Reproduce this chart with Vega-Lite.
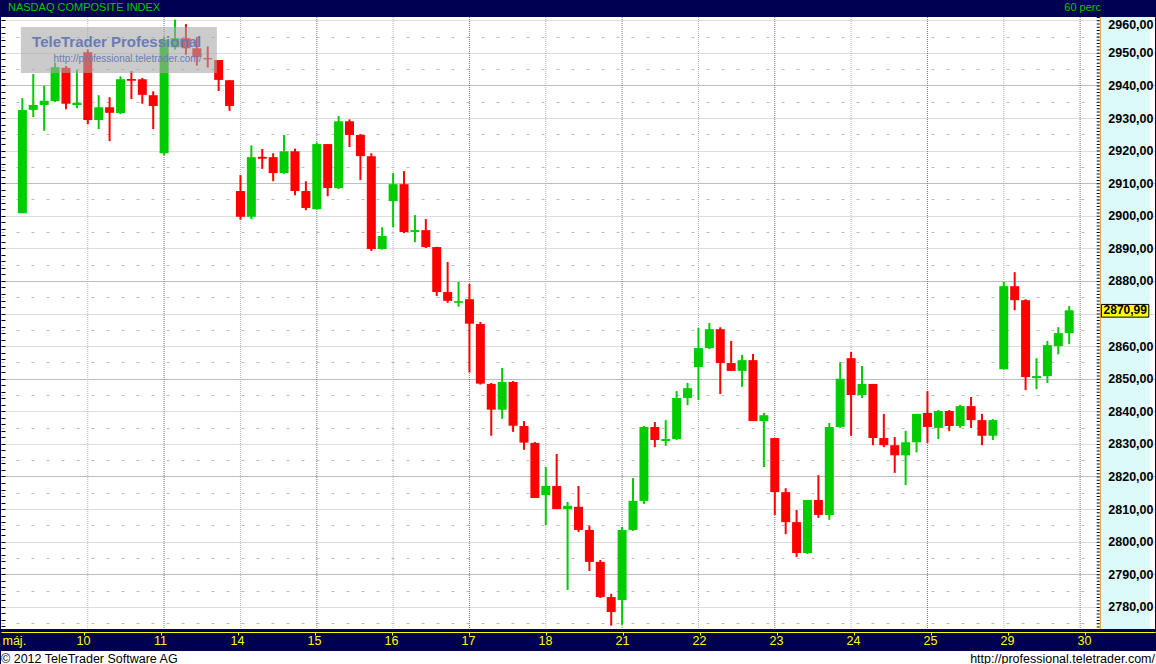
{
  "$schema": "https://vega.github.io/schema/vega-lite/v6.json",
  "background": "#000050",
  "padding": 0,
  "config": {
    "font": "Liberation Sans",
    "view": {"stroke": null}
  },
  "datasets": {
    "candles": [
      {"k":1,"o":2900.8,"h":2936.1,"l":2900.8,"c":2932.5},
      {"k":2,"o":2932.5,"h":2943.5,"l":2930.3,"c":2934.0},
      {"k":3,"o":2934.0,"h":2939.9,"l":2926.1,"c":2935.3},
      {"k":4,"o":2935.2,"h":2947.0,"l":2934.9,"c":2945.6},
      {"k":5,"o":2945.4,"h":2946.0,"l":2932.7,"c":2934.4},
      {"k":6,"o":2934.0,"h":2944.7,"l":2933.0,"c":2934.7},
      {"k":7,"o":2950.2,"h":2951.0,"l":2928.1,"c":2929.4},
      {"k":8,"o":2929.4,"h":2937.0,"l":2926.6,"c":2933.3},
      {"k":9,"o":2933.3,"h":2936.4,"l":2922.9,"c":2931.6},
      {"k":10,"o":2931.5,"h":2942.8,"l":2931.2,"c":2941.9},
      {"k":11,"o":2942.0,"h":2944.4,"l":2935.8,"c":2941.4},
      {"k":12,"o":2941.9,"h":2942.3,"l":2934.4,"c":2937.1},
      {"k":13,"o":2937.0,"h":2938.2,"l":2926.6,"c":2933.7},
      {"k":14,"o":2919.2,"h":2955.0,"l":2918.6,"c":2954.0},
      {"k":15,"o":2951.7,"h":2960.2,"l":2951.0,"c":2954.5},
      {"k":16,"o":2954.5,"h":2958.8,"l":2949.4,"c":2951.4},
      {"k":17,"o":2951.4,"h":2954.8,"l":2946.1,"c":2948.7},
      {"k":18,"o":2948.4,"h":2952.0,"l":2945.5,"c":2948.0},
      {"k":19,"o":2947.8,"h":2947.8,"l":2938.3,"c":2941.7},
      {"k":20,"o":2941.6,"h":2941.6,"l":2932.2,"c":2933.7},
      {"k":21,"o":2907.6,"h":2912.5,"l":2898.8,"c":2899.7},
      {"k":22,"o":2899.7,"h":2921.6,"l":2899.0,"c":2918.0},
      {"k":23,"o":2918.1,"h":2920.5,"l":2914.4,"c":2917.5},
      {"k":24,"o":2918.0,"h":2919.2,"l":2910.6,"c":2913.1},
      {"k":25,"o":2913.1,"h":2924.8,"l":2912.9,"c":2919.8},
      {"k":26,"o":2919.8,"h":2920.6,"l":2906.3,"c":2907.6},
      {"k":27,"o":2907.6,"h":2910.6,"l":2901.7,"c":2902.4},
      {"k":28,"o":2902.0,"h":2922.5,"l":2902.0,"c":2922.0},
      {"k":29,"o":2922.0,"h":2922.0,"l":2906.0,"c":2908.5},
      {"k":30,"o":2908.5,"h":2930.6,"l":2908.2,"c":2929.0},
      {"k":31,"o":2929.0,"h":2929.6,"l":2921.1,"c":2924.8},
      {"k":32,"o":2924.8,"h":2925.1,"l":2911.0,"c":2918.3},
      {"k":33,"o":2918.3,"h":2919.2,"l":2889.2,"c":2889.8},
      {"k":34,"o":2889.8,"h":2896.5,"l":2889.6,"c":2893.8},
      {"k":35,"o":2904.5,"h":2913.1,"l":2896.5,"c":2909.7},
      {"k":36,"o":2909.7,"h":2913.7,"l":2894.7,"c":2895.0},
      {"k":37,"o":2895.0,"h":2900.2,"l":2891.9,"c":2895.6},
      {"k":38,"o":2895.6,"h":2899.0,"l":2890.1,"c":2890.4},
      {"k":39,"o":2890.4,"h":2890.5,"l":2875.4,"c":2876.6},
      {"k":40,"o":2876.6,"h":2885.8,"l":2873.3,"c":2873.9},
      {"k":41,"o":2873.3,"h":2879.7,"l":2872.1,"c":2873.8},
      {"k":42,"o":2874.4,"h":2879.1,"l":2851.9,"c":2866.9},
      {"k":43,"o":2866.8,"h":2867.4,"l":2848.2,"c":2848.5},
      {"k":44,"o":2848.4,"h":2848.7,"l":2832.5,"c":2840.5},
      {"k":45,"o":2840.5,"h":2853.3,"l":2837.7,"c":2849.0},
      {"k":46,"o":2849.0,"h":2849.3,"l":2833.7,"c":2835.6},
      {"k":47,"o":2835.5,"h":2837.0,"l":2828.2,"c":2830.4},
      {"k":48,"o":2830.3,"h":2830.6,"l":2813.4,"c":2813.4},
      {"k":49,"o":2814.3,"h":2822.9,"l":2805.1,"c":2817.1},
      {"k":50,"o":2817.1,"h":2826.9,"l":2810.0,"c":2810.0},
      {"k":51,"o":2810.0,"h":2812.2,"l":2785.2,"c":2811.0},
      {"k":52,"o":2810.7,"h":2817.1,"l":2803.0,"c":2803.6},
      {"k":53,"o":2803.6,"h":2804.9,"l":2791.0,"c":2793.8},
      {"k":54,"o":2793.8,"h":2794.4,"l":2782.7,"c":2783.0},
      {"k":55,"o":2783.0,"h":2784.0,"l":2774.2,"c":2778.4},
      {"k":56,"o":2782.1,"h":2804.5,"l":2774.5,"c":2803.6},
      {"k":57,"o":2803.6,"h":2819.5,"l":2803.3,"c":2812.5},
      {"k":58,"o":2812.5,"h":2835.5,"l":2811.6,"c":2835.2},
      {"k":59,"o":2835.2,"h":2836.7,"l":2829.0,"c":2831.2},
      {"k":60,"o":2830.9,"h":2837.3,"l":2829.4,"c":2831.5},
      {"k":61,"o":2831.5,"h":2846.2,"l":2831.2,"c":2844.1},
      {"k":62,"o":2844.1,"h":2848.7,"l":2841.9,"c":2847.1},
      {"k":63,"o":2853.6,"h":2865.6,"l":2843.5,"c":2859.4},
      {"k":64,"o":2859.4,"h":2867.1,"l":2859.1,"c":2865.2},
      {"k":65,"o":2865.2,"h":2865.8,"l":2845.3,"c":2854.8},
      {"k":66,"o":2854.8,"h":2861.6,"l":2852.4,"c":2852.4},
      {"k":67,"o":2852.4,"h":2857.3,"l":2847.5,"c":2855.7},
      {"k":68,"o":2855.7,"h":2857.6,"l":2837.0,"c":2837.0},
      {"k":69,"o":2837.0,"h":2839.5,"l":2822.9,"c":2838.8},
      {"k":70,"o":2831.8,"h":2831.8,"l":2808.2,"c":2815.2},
      {"k":71,"o":2815.2,"h":2816.4,"l":2802.3,"c":2806.0},
      {"k":72,"o":2806.0,"h":2809.7,"l":2795.3,"c":2796.5},
      {"k":73,"o":2796.5,"h":2812.8,"l":2796.2,"c":2812.8},
      {"k":74,"o":2812.8,"h":2820.4,"l":2807.3,"c":2808.2},
      {"k":75,"o":2808.2,"h":2836.4,"l":2806.7,"c":2835.2},
      {"k":76,"o":2835.2,"h":2855.1,"l":2834.9,"c":2850.0},
      {"k":77,"o":2856.3,"h":2858.2,"l":2832.5,"c":2845.0},
      {"k":78,"o":2845.0,"h":2853.9,"l":2844.1,"c":2848.4},
      {"k":79,"o":2848.4,"h":2848.4,"l":2829.6,"c":2831.8},
      {"k":80,"o":2831.8,"h":2839.2,"l":2829.0,"c":2829.6},
      {"k":81,"o":2829.6,"h":2832.1,"l":2821.1,"c":2826.5},
      {"k":82,"o":2826.5,"h":2834.0,"l":2817.4,"c":2830.5},
      {"k":83,"o":2830.5,"h":2839.2,"l":2827.4,"c":2839.2},
      {"k":84,"o":2839.5,"h":2846.2,"l":2830.3,"c":2835.2},
      {"k":85,"o":2834.9,"h":2840.4,"l":2831.5,"c":2840.1},
      {"k":86,"o":2840.1,"h":2840.4,"l":2833.9,"c":2835.5},
      {"k":87,"o":2835.5,"h":2842.0,"l":2834.9,"c":2841.6},
      {"k":88,"o":2841.6,"h":2844.4,"l":2834.9,"c":2837.3},
      {"k":89,"o":2837.3,"h":2839.2,"l":2829.6,"c":2832.5},
      {"k":90,"o":2832.5,"h":2837.6,"l":2831.2,"c":2837.3},
      {"k":91,"o":2852.9,"h":2879.7,"l":2852.9,"c":2878.4},
      {"k":92,"o":2878.4,"h":2882.7,"l":2871.0,"c":2874.1},
      {"k":93,"o":2874.1,"h":2874.4,"l":2846.5,"c":2850.5},
      {"k":94,"o":2850.2,"h":2856.3,"l":2846.8,"c":2850.8},
      {"k":95,"o":2850.8,"h":2861.6,"l":2848.7,"c":2860.3},
      {"k":96,"o":2860.0,"h":2865.8,"l":2857.5,"c":2864.0},
      {"k":97,"o":2864.0,"h":2872.3,"l":2860.6,"c":2870.99}
    ],
    "last": [{"price": 2870.99}],
    "days": [
      {"k":0,"d":"máj."},{"k":7,"d":"10"},{"k":14,"d":"11"},{"k":21,"d":"14"},{"k":28,"d":"15"},
      {"k":35,"d":"16"},{"k":42,"d":"17"},{"k":49,"d":"18"},{"k":56,"d":"21"},{"k":63,"d":"22"},
      {"k":70,"d":"23"},{"k":77,"d":"24"},{"k":84,"d":"25"},{"k":91,"d":"29"},{"k":98,"d":"30"}
    ]
  },
  "spacing": 0,
  "vconcat": [
    {
      "width": 1156,
      "height": 15,
      "view": {"stroke": null},
      "layer": [
        {
          "data": {"values": [{"t": "NASDAQ COMPOSITE INDEX"}]},
          "mark": {"type": "text", "align": "left", "baseline": "middle", "dx": 7, "color": "#00c800", "font": "Liberation Sans", "fontSize": 11},
          "encoding": {
            "x": {"field": "t", "type": "nominal", "scale": {"type": "point", "padding": 0, "domain": ["NASDAQ COMPOSITE INDEX", "60 perc"]}, "axis": null},
            "text": {"field": "t"}
          }
        },
        {
          "data": {"values": [{"t": "60 perc"}]},
          "mark": {"type": "text", "align": "right", "baseline": "middle", "dx": -56, "color": "#00c800", "font": "Liberation Sans", "fontSize": 11},
          "encoding": {
            "x": {"field": "t", "type": "nominal", "axis": null},
            "text": {"field": "t"}
          }
        }
      ]
    },
    {
      "width": 1154,
      "height": 612,
      "view": {"fill": "white", "stroke": null},
      "layer": [
        {
          "data": {"name": "days"},
          "transform": [{"filter": "datum.k > 0"}],
          "mark": {"type": "rule", "strokeWidth": 1, "strokeDash": [1, 1]},
          "encoding": {
            "x": {
              "field": "k", "type": "quantitative",
              "scale": {"domain": [-0.5, 104.409], "nice": false, "zero": false},
              "axis": {
                "orient": "bottom", "title": null,
                "values": [7, 14, 21, 28, 35, 42, 49, 56, 63, 70, 77, 84, 91, 98],
                "labels": false, "ticks": false, "grid": false, "domain": true, "domainColor": "black"
              }
            },
            "color": {"condition": {"test": "datum.k % 14 == 0", "value": "#7a7a7a"}, "value": "#b4b4b4"}
          }
        },
        {
          "data": {"name": "candles"},
          "mark": {"type": "rule", "strokeWidth": 2},
          "encoding": {
            "x": {"field": "k", "type": "quantitative", "axis": null},
            "y": {
              "field": "l", "type": "quantitative",
              "scale": {"domain": [2773.2, 2961], "nice": false, "zero": false},
              "axis": {
                "orient": "left", "title": null, "labels": false, "domain": false,
                "ticks": true, "tickSize": -4, "tickColor": "black", "tickCount": 190,
                "tickOpacity": {"condition": {"test": "datum.value % 2 == 0", "value": 1}, "value": 0},
                "grid": true,
                "gridOpacity": {"condition": {"test": "datum.value % 5 == 0", "value": 1}, "value": 0},
                "gridDash": {"condition": {"test": "datum.value % 10 == 0", "value": [1, 1]}, "value": [3, 12]},
                "gridColor": {"condition": {"test": "datum.value % 30 == 0", "value": "#7a7a7a"}, "value": "#bdbdbd"}
              }
            },
            "y2": {"field": "h"},
            "color": {"condition": {"test": "datum.c >= datum.o", "value": "#00cc00"}, "value": "#ff0000"}
          }
        },
        {
          "data": {"name": "candles"},
          "mark": {"type": "bar", "size": 9},
          "encoding": {
            "x": {"field": "k", "type": "quantitative", "axis": null},
            "y": {"field": "o", "type": "quantitative", "axis": null},
            "y2": {"field": "c"},
            "color": {"condition": {"test": "datum.c >= datum.o", "value": "#00cc00"}, "value": "#ff0000"}
          }
        },
        {
          "data": {"values": [{}]},
          "mark": {"type": "rect", "color": "#a8a8a8", "opacity": 0.6},
          "encoding": {
            "x": {"datum": 0.864, "type": "quantitative", "axis": null},
            "x2": {"datum": 18.84},
            "y": {"datum": 2957.9, "type": "quantitative", "axis": null},
            "y2": {"datum": 2943.8}
          }
        },
        {
          "data": {"values": [{"t": "TeleTrader Professional"}]},
          "mark": {"type": "text", "font": "Liberation Sans", "fontWeight": "bold", "fontSize": 15, "color": "#6a7cb4", "align": "center", "baseline": "middle"},
          "encoding": {
            "x": {"datum": 9.64, "type": "quantitative", "axis": null},
            "y": {"datum": 2953.3, "type": "quantitative", "axis": null},
            "text": {"field": "t"}
          }
        },
        {
          "data": {"values": [{"t": "http://professional.teletrader.com/"}]},
          "mark": {"type": "text", "font": "Liberation Sans", "fontSize": 10, "color": "#6a7cb4", "align": "center", "baseline": "middle"},
          "encoding": {
            "x": {"datum": 10.64, "type": "quantitative", "axis": null},
            "y": {"datum": 2948.2, "type": "quantitative", "axis": null},
            "text": {"field": "t"}
          }
        },
        {
          "data": {"values": [{}]},
          "mark": {"type": "rect", "color": "#dcfafa"},
          "encoding": {
            "x": {"datum": 99.8636, "type": "quantitative", "axis": null},
            "x2": {"datum": 104.409}
          }
        },
        {
          "data": {"values": [{}]},
          "mark": {"type": "rule", "color": "#e0a040", "strokeWidth": 1},
          "encoding": {
            "x": {"datum": 99.86, "type": "quantitative", "axis": null}
          }
        },
        {
          "data": {"values": [{}]},
          "mark": {"type": "rule", "color": "black", "strokeWidth": 3, "strokeDash": [1, 2.259]},
          "encoding": {
            "x": {"datum": 99.66, "type": "quantitative", "axis": null}
          }
        },
        {
          "data": {"values": [{}]},
          "mark": {"type": "rect", "color": "#ffff00", "stroke": "black", "strokeWidth": 1},
          "encoding": {
            "x": {"datum": 99.95, "type": "quantitative", "axis": null},
            "x2": {"datum": 104.3},
            "y": {"datum": 2872.8, "type": "quantitative", "axis": null},
            "y2": {"datum": 2868.9}
          }
        },
        {
          "data": {"name": "last"},
          "transform": [{"calculate": "replace(format(datum.price, '.2f'), '.', ',')", "as": "lbl"}],
          "mark": {"type": "text", "font": "Liberation Sans", "fontWeight": "bold", "fontSize": 12, "color": "black", "align": "center", "baseline": "middle"},
          "encoding": {
            "x": {"datum": 102.14, "type": "quantitative", "axis": null},
            "y": {
              "field": "price", "type": "quantitative",
              "axis": {
                "orient": "right", "title": null, "zindex": 1,
                "values": [2780, 2790, 2800, 2810, 2820, 2830, 2840, 2850, 2860, 2880, 2890, 2900, 2910, 2920, 2930, 2940, 2950, 2960],
                "labelExpr": "replace(format(datum.value, '.2f'), '.', ',')",
                "labelAlign": "right", "labelPadding": -2,
                "labelBaseline": {"condition": {"test": "datum.value == 2960", "value": "top"}, "value": "middle"},
                "labelOffset": {"condition": {"test": "datum.value == 2960", "value": -2}, "value": 0},
                "ticks": false, "tickSize": 0, "domain": false, "grid": false,
                "labelFont": "Liberation Sans", "labelFontWeight": "bold", "labelFontSize": 12.5, "labelColor": "black"
              }
            },
            "text": {"field": "lbl"}
          }
        }
      ]
    },
    {
      "width": 1154,
      "height": 19,
      "view": {"stroke": null},
      "data": {"name": "days"},
      "layer": [
        {
          "transform": [{"filter": "datum.k == 0"}],
          "mark": {"type": "text", "align": "left", "baseline": "middle", "dx": -4, "dy": -1, "color": "#ffff00", "font": "Liberation Sans", "fontSize": 12.5},
          "encoding": {
            "x": {
              "field": "k", "type": "quantitative",
              "scale": {"domain": [-0.5, 104.409], "nice": false, "zero": false},
              "axis": {
                "orient": "top", "title": null, "labels": false, "grid": false,
                "values": [7, 14, 21, 28, 35, 42, 49, 56, 63, 70, 77, 84, 91, 98],
                "domain": true, "domainColor": "#ffff00", "domainWidth": 1,
                "ticks": true, "tickColor": "#ffff00", "tickSize": -3
              }
            },
            "text": {"field": "d"}
          }
        },
        {
          "transform": [{"filter": "datum.k > 0"}],
          "mark": {"type": "text", "align": "center", "baseline": "middle", "dy": -1, "color": "#ffff00", "font": "Liberation Sans", "fontSize": 12.5},
          "encoding": {
            "x": {"field": "k", "type": "quantitative"},
            "text": {"field": "d"}
          }
        }
      ]
    },
    {
      "width": 1156,
      "height": 17,
      "view": {"fill": "white", "stroke": null},
      "layer": [
        {
          "data": {"values": [{"t": "© 2012 TeleTrader Software AG"}]},
          "mark": {"type": "text", "align": "left", "baseline": "middle", "dy": -1, "color": "black", "font": "Liberation Sans", "fontSize": 12.5},
          "encoding": {
            "x": {"field": "t", "type": "nominal", "scale": {"type": "point", "padding": 0, "domain": ["© 2012 TeleTrader Software AG", "http://professional.teletrader.com/"]}, "axis": null},
            "text": {"field": "t"}
          }
        },
        {
          "data": {"values": [{"t": "http://professional.teletrader.com/"}]},
          "mark": {"type": "text", "align": "right", "baseline": "middle", "dx": -2, "dy": -1, "color": "black", "font": "Liberation Sans", "fontSize": 12.5},
          "encoding": {
            "x": {"field": "t", "type": "nominal", "axis": null},
            "text": {"field": "t"}
          }
        }
      ]
    }
  ]
}
